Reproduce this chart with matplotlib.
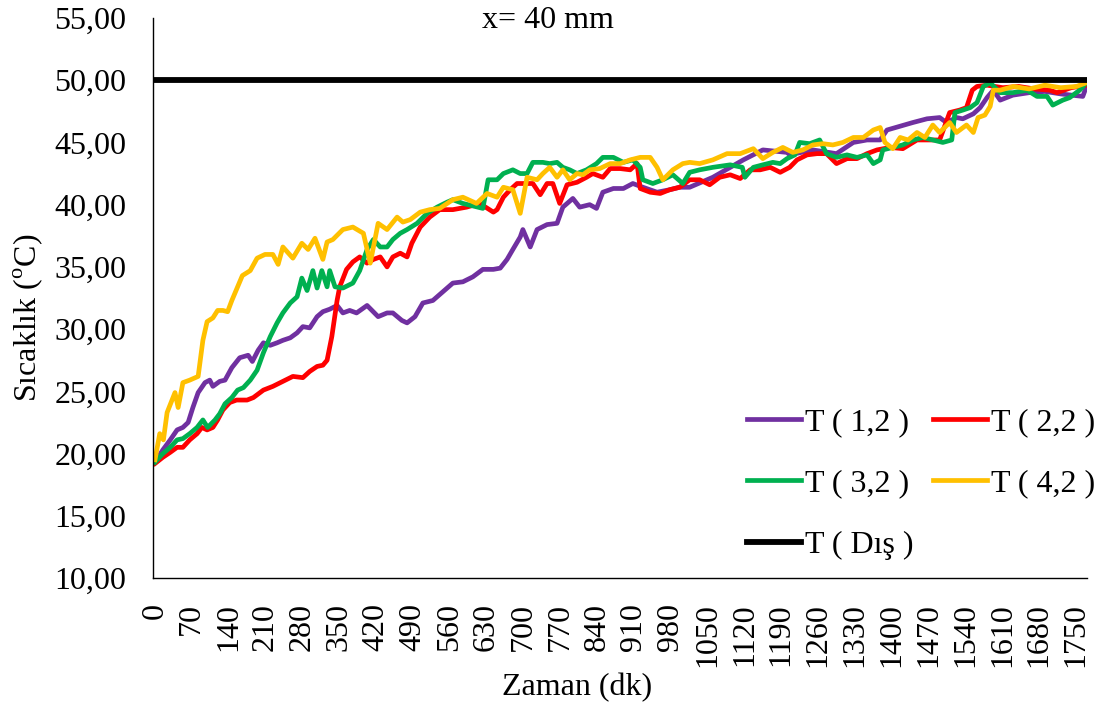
# x= 40 mm sıcaklık - zaman grafiği

import matplotlib
matplotlib.use('Agg')
import matplotlib.pyplot as plt
from matplotlib.ticker import FuncFormatter

plt.rcParams['font.family'] = ['Liberation Serif', 'DejaVu Serif']
plt.rcParams['mathtext.fontset'] = 'custom'
plt.rcParams['mathtext.rm'] = 'Liberation Serif'

# -----------------------------
# Veriler
# -----------------------------
t_12 = [0, 15, 29, 42, 53, 63, 72, 82, 95, 104, 110, 123, 133, 146, 161, 177, 185, 196, 206, 219,
        232, 243, 257, 270, 281, 294, 308, 319, 332, 346, 357, 370, 383, 403, 424, 441, 452, 469, 479, 494,
        509, 528, 547, 566, 585, 604, 623, 643, 656, 669, 680, 694, 699, 713, 726, 745, 764, 775, 794, 807,
        826, 839, 851, 871, 890, 908, 927, 954, 978, 997, 1016, 1060, 1118, 1155, 1201, 1206, 1250, 1295, 1327, 1353,
        1378, 1391, 1440, 1467, 1491, 1504, 1523, 1535, 1555, 1568, 1581, 1593, 1606, 1630, 1661, 1691, 1721, 1763, 1770]
T_12 = [19.3, 20.3, 21.1, 21.9, 22.1, 22.5, 23.7, 24.9, 25.7, 25.9, 25.4, 25.8, 25.9, 26.9, 27.7, 27.9, 27.4, 28.3, 28.9, 28.7,
        28.9, 29.1, 29.3, 29.7, 30.2, 30.1, 31.0, 31.4, 31.6, 31.9, 31.3, 31.5, 31.3, 31.9, 31.0, 31.3, 31.3, 30.7, 30.5, 31.0,
        32.1, 32.3, 33.0, 33.7, 33.8, 34.2, 34.8, 34.8, 34.9, 35.6, 36.4, 37.4, 38.0, 36.6, 38.0, 38.4, 38.5, 39.8, 40.5, 39.8,
        40.0, 39.7, 41.0, 41.3, 41.3, 41.7, 41.4, 41.0, 41.2, 41.4, 41.4, 42.2, 43.6, 44.4, 44.2, 44.0, 44.4, 44.1, 45.0, 45.2,
        45.2, 46.0, 46.6, 46.9, 47.0, 46.6, 47.0, 46.9, 47.3, 47.8, 48.6, 49.2, 48.4, 48.8, 49.0, 49.1, 48.9, 48.7, 49.5]

t_22 = [0, 15, 29, 42, 53, 66, 80, 89, 99, 110, 119, 129, 142, 155, 175, 187, 206, 224, 243, 262,
        281, 294, 308, 319, 327, 336, 346, 351, 364, 376, 389, 403, 415, 428, 441, 452, 466, 479, 488, 504,
        522, 541, 566, 592, 617, 643, 650, 662, 675, 688, 699, 718, 732, 745, 756, 769, 783, 802, 820, 832,
        851, 865, 884, 903, 916, 922, 941, 960, 978, 997, 1016, 1035, 1054, 1073, 1093, 1112, 1131, 1150, 1169, 1188,
        1206, 1220, 1239, 1258, 1276, 1295, 1315, 1334, 1353, 1372, 1397, 1421, 1448, 1491, 1510, 1529, 1542, 1553, 1562, 1581,
        1611, 1641, 1671, 1700, 1714, 1741, 1770]
T_22 = [19.2, 19.7, 20.1, 20.5, 20.5, 21.1, 21.6, 22.1, 21.9, 22.1, 22.7, 23.5, 24.1, 24.3, 24.3, 24.5, 25.1, 25.4, 25.8, 26.2,
        26.1, 26.6, 27.0, 27.1, 27.5, 29.4, 32.3, 33.4, 34.8, 35.4, 35.8, 35.3, 35.6, 35.8, 35.0, 35.8, 36.1, 35.8, 36.9, 38.2,
        39.0, 39.6, 39.6, 39.8, 40.1, 39.4, 39.6, 40.6, 41.2, 41.7, 41.7, 41.7, 40.8, 41.7, 41.7, 40.1, 41.6, 41.8, 42.2, 42.5,
        42.2, 42.9, 42.9, 42.8, 43.3, 41.3, 41.0, 40.9, 41.2, 41.4, 42.0, 42.0, 41.6, 42.2, 42.4, 42.1, 42.8, 42.8, 43.0, 42.6,
        43.0, 43.6, 44.0, 44.1, 44.1, 43.3, 43.7, 43.7, 44.1, 44.4, 44.6, 44.5, 45.2, 45.2, 47.4, 47.6, 47.8, 49.2, 49.5, 49.6,
        49.4, 49.5, 49.3, 49.2, 49.0, 49.4, 49.6]

t_32 = [0, 15, 29, 42, 53, 66, 80, 91, 100, 114, 123, 133, 146, 157, 168, 181, 194, 206, 219, 232,
        243, 257, 270, 279, 289, 300, 308, 317, 327, 332, 342, 357, 376, 389, 403, 415, 428, 441, 452, 466,
        479, 498, 517, 536, 555, 566, 585, 604, 623, 633, 650, 662, 680, 694, 707, 718, 737, 750, 764, 775,
        788, 802, 820, 839, 851, 871, 890, 908, 922, 927, 946, 965, 984, 1003, 1016, 1035, 1060, 1093, 1116, 1121,
        1137, 1155, 1174, 1188, 1201, 1216, 1225, 1244, 1263, 1276, 1295, 1315, 1334, 1353, 1365, 1378, 1383, 1402, 1421, 1440,
        1459, 1478, 1497, 1514, 1520, 1535, 1549, 1562, 1574, 1587, 1606, 1630, 1657, 1676, 1695, 1706, 1725, 1738, 1757, 1770]
T_32 = [19.3, 20.0, 20.5, 21.1, 21.2, 21.6, 22.1, 22.7, 22.1, 22.7, 23.2, 24.0, 24.5, 25.1, 25.3, 25.9, 26.7, 28.1, 29.4, 30.5,
        31.3, 32.1, 32.6, 34.1, 33.1, 34.7, 33.3, 34.7, 33.4, 34.7, 33.4, 33.3, 33.7, 34.7, 36.4, 37.2, 36.6, 36.6, 37.2, 37.7,
        38.0, 38.5, 39.3, 39.8, 40.2, 40.4, 40.1, 39.9, 39.7, 42.0, 42.0, 42.5, 42.8, 42.5, 42.5, 43.4, 43.4, 43.3, 43.4, 43.0,
        42.8, 42.5, 42.8, 43.3, 43.8, 43.8, 43.4, 43.6, 43.0, 42.0, 41.7, 42.0, 42.4, 41.7, 42.6, 42.8, 43.0, 43.2, 43.0, 42.2,
        43.0, 43.2, 43.4, 43.3, 43.7, 44.0, 45.0, 44.9, 45.2, 44.1, 43.8, 44.0, 43.8, 44.0, 43.3, 43.6, 44.4, 44.6, 44.8, 45.2,
        45.4, 45.2, 45.0, 45.2, 47.4, 47.6, 47.8, 48.2, 49.5, 49.8, 49.0, 49.0, 49.2, 48.7, 48.7, 48.0, 48.4, 48.6, 49.2, 49.8]

t_42 = [0, 9, 16, 23, 38, 44, 53, 66, 82, 91, 99, 110, 119, 129, 138, 146, 157, 166, 181, 194,
        209, 224, 234, 243, 262, 279, 291, 304, 319, 327, 338, 357, 376, 396, 409, 424, 441, 460, 471, 485,
        504, 522, 541, 566, 585, 611, 631, 650, 662, 680, 694, 707, 726, 737, 750, 764, 775, 788, 802, 813,
        826, 845, 865, 884, 903, 922, 941, 954, 965, 984, 1003, 1016, 1035, 1060, 1087, 1112, 1137, 1155, 1174, 1193,
        1212, 1231, 1250, 1269, 1288, 1307, 1327, 1346, 1365, 1378, 1387, 1402, 1416, 1431, 1448, 1463, 1478, 1491, 1510, 1523,
        1542, 1555, 1564, 1577, 1587, 1593, 1606, 1631, 1661, 1691, 1721, 1751, 1770]
T_42 = [19.5, 21.6, 21.1, 23.3, 24.9, 23.7, 25.7, 25.9, 26.2, 29.1, 30.6, 30.9, 31.5, 31.5, 31.4, 32.3, 33.4, 34.3, 34.7, 35.7,
        36.0, 36.0, 35.2, 36.6, 35.7, 36.9, 36.4, 37.3, 35.6, 37.0, 37.2, 38.0, 38.2, 37.7, 35.3, 38.5, 38.0, 39.0, 38.6, 38.8,
        39.4, 39.6, 39.7, 40.4, 40.6, 40.1, 40.9, 40.6, 41.4, 41.2, 39.3, 42.2, 42.0, 42.5, 43.0, 42.2, 42.8, 42.0, 42.5, 42.4,
        42.8, 42.9, 43.3, 43.3, 43.6, 43.8, 43.8, 43.0, 42.0, 42.8, 43.3, 43.4, 43.3, 43.6, 44.1, 44.1, 44.5, 43.7, 44.2, 44.6,
        44.2, 44.4, 44.8, 44.9, 44.8, 45.0, 45.4, 45.4, 46.0, 46.2, 45.0, 44.5, 45.4, 45.2, 45.8, 45.4, 46.4, 45.8, 46.6, 45.8,
        46.4, 45.8, 47.0, 47.2, 47.9, 49.2, 49.2, 49.5, 49.3, 49.6, 49.4, 49.5, 49.8]

t_dis = [0, 1770]
T_dis = [50.0, 50.0]

x_ticks = list(range(0, 1751, 70))
y_ticks = list(range(10, 56, 5))

FS = 23

# -----------------------------
# Grafik
# -----------------------------
fig = plt.figure(figsize=(11.05, 7.07), dpi=100)
ax = fig.add_axes([153 / 1105, 1 - 578 / 707, 934 / 1105, 560 / 707])

ax.plot(t_12, T_12, color='#7030A0', lw=3.4, label='T ( 1,2 )', solid_joinstyle='round')
ax.plot(t_22, T_22, color='#FF0000', lw=3.4, label='T ( 2,2 )', solid_joinstyle='round')
ax.plot(t_32, T_32, color='#00B050', lw=3.4, label='T ( 3,2 )', solid_joinstyle='round')
ax.plot(t_42, T_42, color='#FFC000', lw=3.4, label='T ( 4,2 )', solid_joinstyle='round')
ax.plot(t_dis, T_dis, color='black', lw=4.2, label='T ( Dış )')

ax.set_xlim(-3.8, 1771)
ax.set_ylim(10, 55)
ax.set_xticks(x_ticks)
ax.set_yticks(y_ticks)
ax.yaxis.set_major_formatter(FuncFormatter(lambda v, p: f'{v:.2f}'.replace('.', ',')))
ax.tick_params(axis='both', length=0, labelsize=FS)
ax.tick_params(axis='y', pad=19)
ax.tick_params(axis='x', rotation=90, pad=18)

for s in ['top', 'right']:
    ax.spines[s].set_visible(False)
for s in ['left', 'bottom']:
    ax.spines[s].set_linewidth(1.0)

fig.text(577 / 1105, 1 - 688 / 707, 'Zaman (dk)', fontsize=FS, ha='center', va='center')
fig.text(28 / 1105, 1 - 318 / 707, 'Sıcaklık ($^{\\mathrm{o}}$C)', fontsize=FS,
         rotation=90, ha='center', va='center')
fig.text(548 / 1105, 1 - 20 / 707, 'x= 40 mm', fontsize=FS, ha='center', va='center')

h, l = ax.get_legend_handles_labels()
order = [0, 2, 4, 1, 3]
ax.legend([h[i] for i in order], [l[i] for i in order], ncol=2, frameon=False,
          fontsize=FS, loc='upper left', bbox_to_anchor=(747 / 1105, 1 - 408 / 707),
          bbox_transform=fig.transFigure, borderpad=0, borderaxespad=0,
          handlelength=1.7, handletextpad=0.12, columnspacing=0.6, labelspacing=1.0)

plt.savefig('out.png', dpi=100)
plt.close()
